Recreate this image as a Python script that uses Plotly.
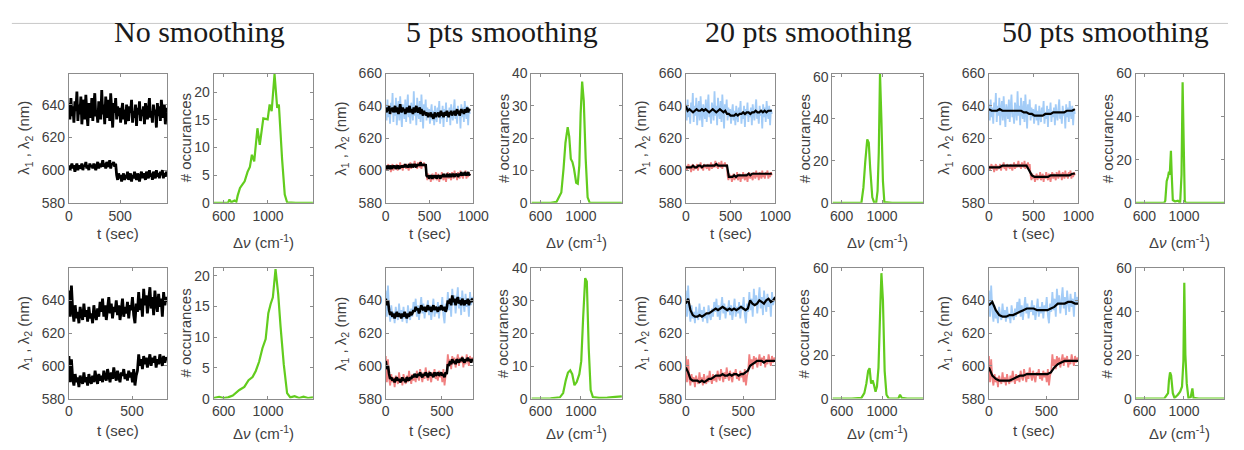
import plotly.graph_objects as go

W, H = 1244, 450

# ---------------- data ----------------
titles = ["No smoothing", "5 pts smoothing", "20 pts smoothing", "50 pts smoothing"]

# ---- row 1: time traces (nm), 0..960 s ----
r1_t_end = 960
r1_lam1_raw = [641, 631, 644, 633, 639, 629, 642, 636, 648, 630, 640, 634, 645, 628, 638, 643, 631, 646, 635, 627,
               641, 637, 632, 644, 630, 639, 647, 633, 636, 629, 642, 638, 631, 649, 634, 640, 628, 645, 636, 632,
               643, 630, 647, 637, 626, 641, 635, 644, 631, 639,
               633, 638, 629, 636, 641, 631, 637, 628, 640, 634, 630, 639, 635, 643, 629, 636, 632, 640, 627, 638,
               634, 642, 630, 637, 633, 639, 628, 641, 635, 631, 638, 644, 632, 636, 629, 640, 634, 637, 626, 641,
               633, 639, 630, 643, 636, 632, 640, 628, 638, 635]
r1_lam2_raw = [603, 600, 602, 604, 601, 603, 599, 602, 604, 600, 603, 601, 602, 604, 600, 603, 602, 605, 601, 603,
               600, 604, 602, 603, 601, 604, 602, 600, 603, 605, 601, 604, 602, 603, 606, 602, 604, 601, 605, 603,
               602, 606, 601, 604, 603, 605, 602, 604,
               597, 594, 598, 595, 597, 593, 596, 598, 594, 597, 595, 599, 594, 596, 598, 593, 597, 595, 599, 596,
               594, 598, 596, 593, 597, 599, 595, 598, 596, 594, 599, 597, 595, 600, 596, 598, 594, 599, 597, 595,
               600, 596, 598, 595, 599, 597, 600, 595, 598, 596, 599, 597]
r1_lam1_s5 = [638, 636, 639, 637, 640, 635, 638, 637, 639, 636, 638, 640, 636, 639, 637, 635, 638, 641, 637, 636,
              639, 637, 638, 635, 637, 639, 636, 638, 640, 636, 638, 637, 635, 639, 636, 638, 640, 637, 636, 638,
              639, 635, 638, 636, 634, 637, 635, 636, 634, 636, 633, 635, 634, 636, 633, 635, 632, 634, 636, 633,
              635, 634, 636, 633, 635, 637, 634, 636, 633, 635, 636, 634, 637, 635, 633, 636, 635, 637, 634, 636,
              635, 637, 634, 636, 638, 635, 637, 634, 636, 638, 636, 637, 635, 638, 636, 637, 639, 636, 638, 637]
r1_lam2_s5 = [602, 601, 603, 602, 601, 603, 602, 601, 603, 602, 602, 603, 601, 602, 603, 602, 601, 603, 602, 603,
              602, 603, 602, 604, 602, 603, 602, 603, 604, 602, 603, 604, 602, 603, 604, 603, 602, 604, 603, 604,
              603, 605, 603, 604, 603, 604, 603, 604, 597, 596, 597, 595, 596, 597, 596, 595, 597, 596, 596, 597,
              595, 597, 596, 597, 595, 596, 597, 596, 598, 596, 597, 596, 598, 597, 596, 597, 598, 596, 597, 598,
              597, 596, 598, 597, 598, 596, 597, 598, 597, 599, 597, 598, 597, 599, 598, 597, 598, 599, 597, 598]
r1_lam1_s20 = [640, 637, 638, 637, 636, 637, 638, 637, 637, 638, 637, 638, 637, 636, 637, 638, 637, 636, 637, 638,
               637, 636, 637, 635, 635, 634, 634, 634, 635, 634, 635, 635, 636, 635, 636, 636, 635, 636, 636, 637,
               636, 636, 637, 636, 637, 636, 637, 637, 637]
r1_lam2_s20 = [602, 602, 602, 602, 603, 602, 602, 603, 603, 602, 603, 603, 603, 603, 603, 603, 603, 604, 603, 603,
               603, 603, 603, 603, 596, 596, 596, 597, 596, 597, 597, 597, 597, 597, 597, 598, 597, 598, 598, 598,
               598, 598, 598, 598, 598, 598, 598, 598, 598]
r1_lam1_s50 = [638, 637, 637, 637, 638, 637, 637, 637, 637, 637, 637, 637, 637, 636, 636, 635, 635, 634, 634, 634,
               634, 635, 635, 635, 636, 636, 636, 636, 636, 637, 637, 637, 638]
r1_lam2_s50 = [602, 602, 602, 602, 602, 603, 603, 603, 603, 603, 603, 603, 603, 603, 603, 600, 597, 596, 596, 596,
               596, 596, 596, 597, 597, 597, 597, 597, 597, 597, 597, 598, 598]

# ---- row 2: time traces (nm), 0..780 s ----
r2_t_end = 780
r2_lam1_raw = [646, 630, 649, 634, 627, 637, 629, 633, 626, 636, 631, 628, 638, 630, 634, 627, 636, 629, 632, 626,
               637, 631, 628, 635, 630, 639, 633, 641, 630, 637, 628, 635, 642, 632, 638, 629, 636, 633, 640, 631,
               637, 628, 634, 641, 630, 636, 632, 639, 629, 637, 634, 642, 631, 626, 638, 633, 645, 634, 641, 630,
               647, 637, 643, 632, 640, 648, 635, 642, 631, 646, 638, 633, 644, 636, 641, 630, 645, 637, 642, 639]
r2_lam2_raw = [606, 590, 604, 592, 588, 595, 590, 593, 587, 594, 591, 589, 596, 590, 593, 588, 595, 591, 589, 594,
               590, 597, 592, 589, 595, 591, 594, 590, 597, 593, 591, 598, 594, 590, 596, 592, 599, 594, 591, 597,
               593, 590, 596, 594, 598, 592, 595, 591, 597, 593, 596, 590, 598, 588, 594, 597, 607, 600, 604, 598,
               606, 601, 605, 599, 603, 607, 600, 605, 602, 606, 599, 604, 601, 607, 603, 600, 606, 602, 605, 604]
r2_lam1_s5 = [641, 637, 640, 634, 631, 633, 630, 632, 629, 631, 633, 630, 632, 631, 629, 632, 630, 633, 631, 629,
              632, 630, 633, 631, 632, 634, 633, 636, 634, 635, 632, 634, 637, 635, 634, 636, 633, 635, 637, 634,
              636, 633, 635, 637, 634, 636, 635, 633, 636, 634, 637, 635, 634, 636, 633, 635, 640, 638, 641, 637,
              643, 639, 641, 637, 640, 642, 638, 640, 637, 641, 639, 637, 640, 638, 641, 637, 640, 639, 641, 639]
r2_lam2_s5 = [603, 598, 600, 595, 592, 593, 591, 592, 590, 592, 593, 591, 592, 590, 591, 593, 591, 592, 590, 593,
              592, 591, 593, 592, 594, 593, 595, 594, 593, 595, 594, 596, 594, 593, 595, 594, 596, 595, 593, 595,
              596, 594, 595, 593, 596, 594, 595, 596, 594, 595, 596, 594, 595, 593, 596, 595, 601, 600, 603, 601,
              604, 602, 603, 601, 604, 603, 602, 604, 603, 605, 603, 602, 604, 603, 605, 603, 604, 602, 604, 603]
r2_lam1_s20 = [638, 641, 634, 631, 630, 630, 631, 630, 631, 632, 632, 633, 634, 635, 634, 635, 636, 635, 634, 635,
               634, 635, 634, 635, 636, 635, 634, 635, 640, 638, 637, 638, 640, 639, 638, 640, 641, 639, 640, 642]
r2_lam2_s20 = [599, 596, 592, 591, 591, 591, 590, 591, 590, 591, 592, 592, 593, 594, 594, 594, 595, 594, 594, 595,
               594, 595, 595, 594, 595, 595, 596, 597, 600, 601, 602, 603, 603, 603, 602, 603, 603, 603, 603, 603]
r2_lam1_s50 = [637, 639, 634, 631, 630, 630, 631, 631, 632, 633, 634, 635, 635, 635, 634, 634, 634, 634, 635, 636,
               638, 638, 638, 639, 639, 638, 638]
r2_lam2_s50 = [599, 594, 592, 591, 591, 591, 591, 592, 593, 594, 594, 595, 595, 595, 595, 595, 595, 595, 596, 599,
               601, 602, 603, 603, 603, 603, 603]

# ---- histograms: delta-nu (cm-1) vs occurrences ----
h_r1_c1_x = [510, 600, 640, 653, 670, 698, 715, 727, 748, 772, 790, 816, 837, 855, 876, 905, 926, 958, 997, 1015,
             1033, 1059, 1083, 1098, 1127, 1151, 1172, 1250, 1405]
h_r1_c1_y = [0, 0, 0, 0.6, 0.1, 0.4, 0.2, 1.3, 2.7, 3.4, 3.9, 5.6, 6.5, 8.7, 7.5, 13.5, 10.5, 15.3, 15.1, 17.8,
             16.6, 23.3, 17.2, 17.8, 7.9, 1.5, 0.1, 0, 0]
h_r1_c2_x = [510, 600, 700, 759, 806, 828, 847, 869, 884, 900, 916, 931, 953, 969, 984, 997, 1012, 1028, 1047, 1066,
             1087, 1200, 1405]
h_r1_c2_y = [0, 0, 0, 0.3, 3.2, 10.6, 18.6, 23.4, 20.6, 13.6, 12.6, 10.6, 6.2, 5.9, 11.6, 27.6, 37.5, 31.5, 13.6, 1.7,
             0, 0, 0]
h_r1_c3_x = [510, 600, 700, 796, 816, 834, 854, 869, 883, 904, 921, 942, 956, 968, 980, 994, 1009, 1023, 1100, 1405]
h_r1_c3_y = [0, 0, 0, 0, 7.2, 19.4, 30.2, 28.6, 16.4, 2.6, 0.3, 0, 5.7, 24, 61.5, 39.4, 10.3, 0.3, 0, 0]
h_r1_c4_x = [510, 600, 700, 800, 811, 825, 839, 848, 856, 868, 876, 887, 910, 938, 961, 975, 986, 997, 1008, 1017,
             1100, 1405]
h_r1_c4_y = [0, 0, 0, 0, 1, 10, 12.2, 14.5, 13, 24.2, 13, 1.3, 0.6, 1, 0, 13, 56, 28, 1, 0, 0, 0]

h_r2_c1_x = [510, 560, 600, 640, 683, 742, 787, 825, 861, 890, 920, 950, 979, 1003, 1024, 1044, 1068, 1092, 1113,
             1142, 1172, 1201, 1240, 1280, 1320, 1360, 1405]
h_r2_c1_y = [0.1, 0.3, 0.1, 0.2, 0.5, 1.4, 1.9, 3.0, 3.5, 4.5, 6.0, 8.2, 9.7, 13.9, 15.4, 16.5, 21.1, 17.0, 11.8,
             5.6, 0.9, 0.2, 0.4, 0.1, 0.3, 0.1, 0.2]
h_r2_c2_x = [510, 600, 700, 792, 824, 850, 872, 894, 914, 936, 958, 984, 1003, 1022, 1042, 1058, 1077, 1096, 1118,
             1180, 1260, 1340, 1405]
h_r2_c2_y = [0, 0, 0.1, 0.4, 1.7, 5.6, 8.0, 8.7, 7.5, 4.1, 5.1, 7.5, 11.5, 25, 37, 36, 15.4, 2.6, 0.5, 0.2, 0.3,
             0.5, 0.7]
h_r2_c3_x = [510, 600, 700, 796, 825, 845, 863, 877, 892, 907, 921, 936, 950, 965, 980, 994, 1009, 1026, 1044, 1067,
             1161, 1178, 1196, 1250, 1405]
h_r2_c3_y = [0, 0, 0, 0.3, 2.5, 6.9, 12.8, 14, 6.9, 8.4, 6.2, 3.2, 5.5, 14.3, 37.9, 57.8, 45.3, 12.8, 1.8, 0, 0,
             1.8, 0.3, 0, 0]
h_r2_c4_x = [510, 600, 700, 800, 820, 839, 848, 859, 870, 887, 904, 938, 961, 980, 994, 1003, 1014, 1028, 1045, 1068,
             1085, 1096, 1150, 1405]
h_r2_c4_y = [0, 0, 0, 0, 1.3, 2.5, 8.4, 12.1, 10.6, 2.5, 0.3, 1.8, 3.2, 5.5, 17.3, 53.4, 20.2, 6.9, 0.3, 0.7, 4.7,
             0.3, 0, 0]

# ---- axis ranges / ticks ----
t_ticks_r1 = [[0, 500], [0, 500, 1000], [0, 500, 1000], [0, 500, 1000]]
t_range_r1 = [[0, 960], [0, 1000], [0, 1000], [0, 1000]]
t_ticks_r2 = [0, 500]
t_range_r2 = [0, 780]
lam_ticks_r1 = [[580, 600, 620, 640], [580, 600, 620, 640, 660], [580, 600, 620, 640, 660], [580, 600, 620, 640, 660]]
lam_range_r1 = [[580, 659], [580, 660], [580, 660], [580, 660]]
lam_ticks_r2 = [580, 600, 620, 640]
lam_range_r2 = [580, 659.5]
dnu_ticks = [600, 1000]
dnu_range = [510, 1405]
occ_ticks_r1 = [[0, 5, 10, 15, 20], [0, 10, 20, 30, 40], [0, 20, 40, 60], [0, 20, 40, 60]]
occ_range_r1 = [[0, 23.4], [0, 40], [0, 61.5], [0, 60]]
occ_ticks_r2 = [[0, 5, 10, 15, 20], [0, 10, 20, 30, 40], [0, 20, 40, 60], [0, 20, 40, 60]]
occ_range_r2 = [[0, 21.2], [0, 40], [0, 60], [0, 60]]

# ---------------- layout geometry (pixels) ----------------
COL_PX = [(66, 166), (213, 314), (388, 477), (536, 628), (693, 784), (842, 934), (1001, 1092), (1150, 1240)]
ROW_PX = [(68, 202), (270, 405)]
TITLE_X = [199, 506, 818, 1119]

BLACK = "#000000"
BLUE = "rgb(163,204,247)"
RED = "rgb(240,128,128)"
GREEN = "rgb(98,204,30)"
AXC = "#8c8c8c"
TXT = "#404040"
SANS = "Liberation Sans, Arial, sans-serif"


def times(n, t_end):
    return [i * t_end / (n - 1) for i in range(n)]


raw = {
    0: (r1_lam1_raw, r1_lam2_raw, r1_t_end),
    1: (r2_lam1_raw, r2_lam2_raw, r2_t_end),
}
smooth = {
    (0, 1): (r1_lam1_s5, r1_lam2_s5), (0, 2): (r1_lam1_s20, r1_lam2_s20), (0, 3): (r1_lam1_s50, r1_lam2_s50),
    (1, 1): (r2_lam1_s5, r2_lam2_s5), (1, 2): (r2_lam1_s20, r2_lam2_s20), (1, 3): (r2_lam1_s50, r2_lam2_s50),
}
hists = {
    (0, 0): (h_r1_c1_x, h_r1_c1_y), (0, 1): (h_r1_c2_x, h_r1_c2_y),
    (0, 2): (h_r1_c3_x, h_r1_c3_y), (0, 3): (h_r1_c4_x, h_r1_c4_y),
    (1, 0): (h_r2_c1_x, h_r2_c1_y), (1, 1): (h_r2_c2_x, h_r2_c2_y),
    (1, 2): (h_r2_c3_x, h_r2_c3_y), (1, 3): (h_r2_c4_x, h_r2_c4_y),
}

fig = go.Figure()
layout = {}
annotations = []


def px2x(p):
    return p / W


def px2y(p):
    return 1 - p / H


def axis_style(dom, rng, ticks, anchor):
    return dict(domain=dom, range=rng, tickvals=ticks, anchor=anchor,
                showline=True, linecolor=AXC, linewidth=1, mirror="ticks",
                ticks="inside", ticklen=3, tickcolor=AXC, tickwidth=1,
                showgrid=False, zeroline=False,
                tickfont=dict(family=SANS, size=14, color=TXT))


def line(x, y, color, width, xa, ya):
    return go.Scatter(x=x, y=y, mode="lines", line=dict(color=color, width=width, simplify=False),
                      xaxis=xa, yaxis=ya, showlegend=False, hoverinfo="skip")


ax_i = 0
for r in range(2):
    ytop, ybot = ROW_PX[r]
    ydom = [px2y(ybot), px2y(ytop)]
    for s in range(4):
        for kind in range(2):  # 0 = time trace, 1 = histogram
            col = 2 * s + kind
            x0, x1 = COL_PX[col]
            xdom = [px2x(x0), px2x(x1)]
            ax_i += 1
            xa = "x" if ax_i == 1 else f"x{ax_i}"
            ya = "y" if ax_i == 1 else f"y{ax_i}"
            xkey = "xaxis" if ax_i == 1 else f"xaxis{ax_i}"
            ykey = "yaxis" if ax_i == 1 else f"yaxis{ax_i}"
            if kind == 0:
                l1, l2, tend = raw[r]
                t = times(len(l1), tend)
                if s == 0:
                    fig.add_trace(line(t, l1, BLACK, 2.8, xa, ya))
                    fig.add_trace(line(t, l2, BLACK, 2.8, xa, ya))
                else:
                    fig.add_trace(line(t, l1, BLUE, 1.8, xa, ya))
                    fig.add_trace(line(t, l2, RED, 1.8, xa, ya))
                    s1, s2 = smooth[(r, s)]
                    bw = 2.6 if s == 1 else 2.2
                    for sv in (s1, s2):
                        fig.add_trace(line(times(len(sv), tend), sv, BLACK, bw, xa, ya))
                if r == 0:
                    xr, xt = t_range_r1[s], t_ticks_r1[s]
                    yr, yt = lam_range_r1[s], lam_ticks_r1[s]
                else:
                    xr, xt = t_range_r2, t_ticks_r2
                    yr, yt = lam_range_r2, lam_ticks_r2
                layout[xkey] = axis_style(xdom, xr, xt, ya)
                layout[ykey] = axis_style(ydom, yr, yt, xa)
                annotations.append(dict(text="λ<sub>1</sub> , λ<sub>2</sub> (nm)", x=px2x(x0 - 45),
                                        y=px2y((ytop + ybot) / 2), textangle=-90))
                annotations.append(dict(text="t (sec)", x=px2x((x0 + x1) / 2),
                                        y=px2y(234 if r == 0 else 438)))
            else:
                hx, hy = hists[(r, s)]
                fig.add_trace(line(hx, hy, GREEN, 2.2, xa, ya))
                if r == 0:
                    yr, yt = occ_range_r1[s], occ_ticks_r1[s]
                else:
                    yr, yt = occ_range_r2[s], occ_ticks_r2[s]
                layout[xkey] = axis_style(xdom, dnu_range, dnu_ticks, ya)
                layout[ykey] = axis_style(ydom, yr, yt, xa)
                annotations.append(dict(text="# occurances", x=px2x(x0 - 29),
                                        y=px2y((ytop + ybot) / 2), textangle=-90))
                annotations.append(dict(text="Δ<i>ν</i> (cm<sup>-1</sup>)", x=px2x((x0 + x1) / 2),
                                        y=px2y(242 if r == 0 else 440)))

for a in annotations:
    a.update(xref="paper", yref="paper", showarrow=False, xanchor="center", yanchor="middle",
             font=dict(family=SANS, size=15, color=TXT))

for i, title in enumerate(titles):
    annotations.append(dict(text=title, x=px2x(TITLE_X[i]), y=px2y(24), xref="paper", yref="paper",
                            showarrow=False, xanchor="center", yanchor="middle",
                            font=dict(family="Liberation Serif, Times New Roman, serif", size=30,
                                      color="#1a1a1a")))

fig.update_layout(
    width=W, height=H,
    margin=dict(l=0, r=0, t=0, b=0),
    paper_bgcolor="white", plot_bgcolor="white",
    annotations=annotations,
    shapes=[dict(type="line", xref="paper", yref="paper", x0=px2x(8), x1=1, y0=px2y(16), y1=px2y(16),
                 line=dict(color="#c8c8c8", width=1))],
    **layout,
)

fig.write_html("out.html", config={"displayModeBar": False},
               post_script="document.body.style.margin='0';document.body.style.overflow='hidden';")
